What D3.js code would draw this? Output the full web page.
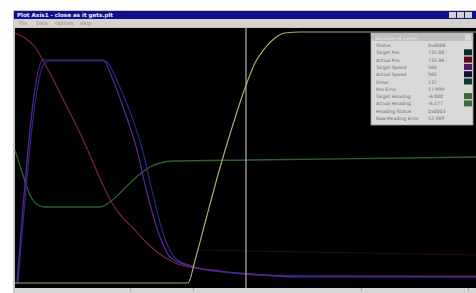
<!DOCTYPE html>
<html>
<head>
<meta charset="utf-8">
<script src="https://cdn.jsdelivr.net/npm/d3@7"></script>
<style>
  body { margin: 0; background: #ffffff; }
  svg { display: block; }
  text { font-family: Tahoma, "DejaVu Sans", sans-serif; }
</style>
</head>
<body>
<svg id="chart" width="476" height="293"></svg>
<script>
var W = 476, H = 293;

// time (s) vs percent of full scale
var targetPos = [[0,0],[17.3,0],[18,9],[19,24],[20,39],[21,53],[22,66],[23,78],[24,88],[25,94],[26,98],[27,100],[28.5,100.4],[46.1,100.4]];
var actualPos = [[0,100],[1,98],[2,94.4],[3,87.6],[4,80],[5.2,70.4],[6.5,60],[7.7,49.2],[8.7,40],[9.7,32],[10.7,26.4],[11.8,22],[13,16.8],[14.2,12.4],[15.8,8.4],[18.5,5.6],[23.5,3.6],[28.5,2.8],[46.1,2.8]];
var targetSpeed = [[0.2,0],[2.8,89.2],[8.8,89.2],[9.8,81.2],[10.8,70.4],[12.2,53.2],[13.2,36],[14.5,18.4],[15.5,10.4],[17.5,6.8],[20.5,4.8],[23.5,3.6],[28.5,2.4],[46.1,2.4]];
var actualSpeed = [[0.3,0],[2.9,87.6],[3.5,88.8],[9,88.8],[10.3,80],[11.4,69.6],[12.8,52.4],[13.8,35.2],[15,17.6],[16,10],[18,6.4],[21,4.4],[24,3.2],[46.1,2.4]];
var drive = [[0,53.2],[0.7,44.4],[1.5,35.2],[2.3,31.2],[3,30.4],[8.5,30.4],[9.5,32.4],[10.5,36],[11.5,40],[12.5,43.6],[13.5,46.4],[14.5,48],[16,48.8],[23.5,49.2],[46.1,50.4]];
var posError = [[18,13.2],[46.1,11.2]];
var cursorT = 23.1;

var menuItems = ["File","Data","Options","Help"];
var legendNames = ["Status","Target Pos","Actual Pos","Target Speed","Actual Speed","Drive","Pos Error","Target Heading","Actual Heading","Heading Status","Raw Heading Error"];
var legendValues = ["0x0008","731.00","731.46","565","565","137","17.999","-6.000","-6.177","0x0003","52.369"];
var legendSwatch = [null,"#0c2a2a","#5a0a1a","#4a1a5a","#101040","#0a3a2a",null,"#3a6a3a","#3a6a3a",null,null];

var svg = d3.select("#chart");

// window chrome
svg.append("rect").attr("x",0).attr("y",0).attr("width",W).attr("height",H).attr("fill","#ffffff");
svg.append("rect").attr("x",13).attr("y",10).attr("width",W-13).attr("height",H-10).attr("fill","#c8c8c8");
svg.append("rect").attr("x",14).attr("y",11).attr("width",W-14).attr("height",8).attr("fill","#10108a");
svg.append("text").attr("x",17).attr("y",17.3).attr("fill","#e8e8ff").attr("font-size",5.6).attr("font-weight","bold")
  .text("Plot Axis1 - close as it gets.plt");
[449,457,465].forEach(function(bx){
  svg.append("rect").attr("x",bx).attr("y",12).attr("width",7).attr("height",6).attr("fill","#d4d0c8");
});
svg.append("rect").attr("x",14).attr("y",19).attr("width",W-14).attr("height",8).attr("fill","#d6d3cc");
var mx = [19,36,55,80];
menuItems.forEach(function(m,i){
  svg.append("text").attr("x",mx[i]).attr("y",25.3).attr("fill","#8a8a8a").attr("font-size",4.8).text(m);
});

// plot area
var plotTop = 28, plotBottom = 288, plotLeft = 15;
svg.append("rect").attr("x",plotLeft).attr("y",plotTop).attr("width",W-plotLeft).attr("height",plotBottom-plotTop).attr("fill","#000000");

var x = d3.scaleLinear().domain([0,46.1]).range([15,476]);
var y = d3.scaleLinear().domain([0,100]).range([283,33]);

var line = d3.line().x(function(d){ return x(d[0]); }).y(function(d){ return y(d[1]); }).curve(d3.curveMonotoneX);

var g = svg.append("g");
function trace(data, col, w){
  g.append("path").datum(data).attr("d", line).attr("fill","none")
    .attr("stroke", col).attr("stroke-width", w);
}
trace(posError, "#2a0a10", 1);
trace(drive, "#2a6030", 1.3);
trace(actualPos, "#7a2434", 1.2);
trace(actualSpeed, "#26268a", 1.2);
trace(targetSpeed, "#5a2898", 1.2);
trace(targetPos, "#a8ac70", 1.2);

// cursor
g.append("line").attr("x1",x(cursorT)).attr("x2",x(cursorT)).attr("y1",plotTop).attr("y2",plotBottom)
  .attr("stroke","#b0b0b0").attr("stroke-width",1.2);

// bottom axis strip
svg.append("rect").attr("x",plotLeft).attr("y",plotBottom).attr("width",W-plotLeft).attr("height",H-plotBottom).attr("fill","#d8d8d8");
var axis = svg.append("g").attr("transform","translate(0," + plotBottom + ")")
  .call(d3.axisBottom(x).tickValues([11.5,17.8,34.6,45.3]).tickSize(3).tickFormat(""));
axis.select(".domain").remove();
axis.selectAll("line").attr("stroke","#a8a8a8");

// legend panel
var lx = 371, ly = 33, lw = 102, lh = 92;
svg.append("rect").attr("x",lx).attr("y",ly).attr("width",lw).attr("height",lh).attr("fill","#d9d9d9").attr("stroke","#9a9a9a").attr("stroke-width",0.8);
svg.append("rect").attr("x",lx+1).attr("y",ly+1).attr("width",lw-2).attr("height",7).attr("fill","#bdbdbd");
svg.append("text").attr("x",lx+4).attr("y",ly+6.5).attr("fill","#eeeeee").attr("font-size",4.5).text("Variables at cursor");
svg.append("rect").attr("x",lx+lw-8).attr("y",ly+1.5).attr("width",6).attr("height",6).attr("fill","#d6d6d6");

var rowY = d3.scaleLinear().domain([0,legendNames.length-1]).range([ly+14,ly+87]);
legendNames.forEach(function(n,i){
  svg.append("text").attr("x",lx+5).attr("y",rowY(i)).attr("fill","#6a6a6a").attr("font-size",4.6).text(n);
  svg.append("text").attr("x",lx+57).attr("y",rowY(i)).attr("fill","#6a6a6a").attr("font-size",4.6).text(legendValues[i]);
  if (legendSwatch[i]) {
    svg.append("rect").attr("x",lx+93).attr("y",rowY(i)-5).attr("width",8).attr("height",6).attr("fill",legendSwatch[i]);
  }
});
</script>
</body>
</html>
